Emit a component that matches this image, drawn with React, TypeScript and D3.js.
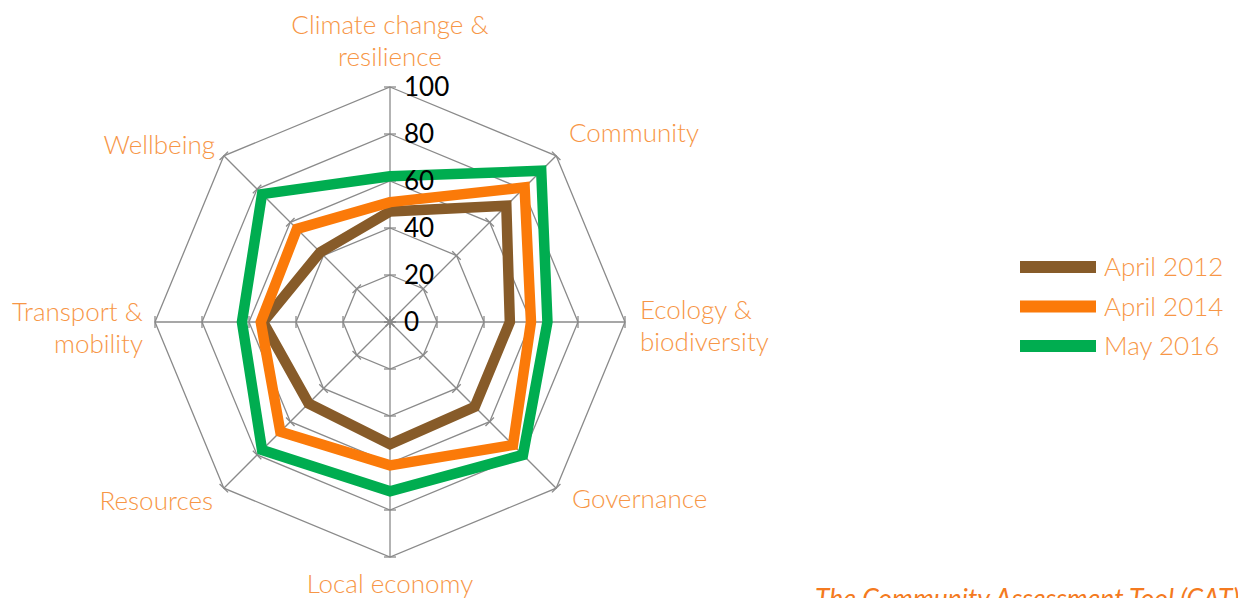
import * as d3 from 'd3';
import React, { useEffect, useRef } from 'react';

const categories = [
  ['Climate change &', 'resilience'],
  ['Community'],
  ['Ecology &', 'biodiversity'],
  ['Governance'],
  ['Local economy'],
  ['Resources'],
  ['Transport &', 'mobility'],
  ['Wellbeing'],
];

const april2012 = [47, 70, 51, 51, 52, 49, 54, 42];
const april2014 = [51, 81, 60, 74, 61, 66, 55, 56];
const may2016 = [62, 91, 67, 80, 72, 77, 63, 77];

const seriesNames = ['April 2012', 'April 2014', 'May 2016'];
const seriesColors = ['#875B29', '#FB7A09', '#00AD50'];
const tickValues = [0, 20, 40, 60, 80, 100];

function App() {
  const ref = useRef(null);

  useEffect(() => {
    const svg = d3.select(ref.current);
    svg.selectAll('*').remove();

    const cx = 390, cy = 322;
    const r = d3.scaleLinear().domain([0, 100]).range([0, 235]);
    const n = categories.length;
    const angle = (i) => (i * 2 * Math.PI) / n;
    const pt = (i, v) => [cx + r(v) * Math.sin(angle(i)), cy - r(v) * Math.cos(angle(i))];
    const labelColor = '#F79646';
    const gridColor = '#8A8A8A';

    const g = svg.append('g');

    // Gitter-Polygone
    tickValues.slice(1).forEach(t => {
      g.append('path')
        .attr('d', d3.line()(d3.range(n).map(i => pt(i, t))) + 'Z')
        .attr('fill', 'none')
        .attr('stroke', gridColor)
        .attr('stroke-width', 1.3);
    });

    // Speichen mit Tickmarks
    d3.range(n).forEach(i => {
      const [x1, y1] = pt(i, 100);
      g.append('line')
        .attr('x1', cx).attr('y1', cy).attr('x2', x1).attr('y2', y1)
        .attr('stroke', gridColor).attr('stroke-width', 1.3);
      const a = angle(i);
      const px = Math.cos(a), py = Math.sin(a);
      tickValues.forEach(t => {
        const [x, y] = pt(i, t);
        g.append('line')
          .attr('x1', x - px * 6).attr('y1', y - py * 6)
          .attr('x2', x + px * 6).attr('y2', y + py * 6)
          .attr('stroke', gridColor).attr('stroke-width', 1.3);
      });
    });

    // Serien
    [april2012, april2014, may2016].forEach((vals, s) => {
      g.append('path')
        .attr('d', d3.line()(vals.map((v, i) => pt(i, v))) + 'Z')
        .attr('fill', 'none')
        .attr('stroke', seriesColors[s])
        .attr('stroke-width', 10.5)
        .attr('stroke-linejoin', 'miter');
    });

    // Achsenbeschriftung
    tickValues.forEach(t => {
      g.append('text')
        .attr('x', cx + 14)
        .attr('y', cy - r(t))
        .attr('dy', '0.36em')
        .style('font-family', 'Lato, sans-serif')
        .style('font-size', '26px')
        .style('fill', '#000')
        .text(t);
    });

    // Kategorien
    const labelPos = [
      { x: 390, y: 25, anchor: 'middle' },
      { x: 569, y: 133, anchor: 'start' },
      { x: 640, y: 310, anchor: 'start' },
      { x: 572, y: 499, anchor: 'start' },
      { x: 390, y: 584, anchor: 'middle' },
      { x: 213, y: 501, anchor: 'end' },
      { x: 143, y: 312, anchor: 'end' },
      { x: 215, y: 145, anchor: 'end' },
    ];
    categories.forEach((lines, i) => {
      const t = g.append('text')
        .attr('text-anchor', labelPos[i].anchor)
        .style('font-family', 'Lato, sans-serif')
        .style('font-weight', 300)
        .style('font-size', '26px')
        .style('fill', labelColor);
      lines.forEach((l, j) => {
        t.append('tspan')
          .attr('x', labelPos[i].x)
          .attr('y', labelPos[i].y + j * 32)
          .attr('dy', '0.36em')
          .text(l);
      });
    });

    // Legende
    const legend = svg.append('g');
    seriesNames.forEach((name, s) => {
      const y = 267 + s * 39.5;
      legend.append('rect')
        .attr('x', 1020).attr('y', y - 6).attr('width', 76).attr('height', 12)
        .attr('fill', seriesColors[s]);
      legend.append('text')
        .attr('x', 1104).attr('y', y).attr('dy', '0.36em')
        .style('font-family', 'Lato, sans-serif')
        .style('font-weight', 300)
        .style('font-size', '26px')
        .style('fill', labelColor)
        .text(name);
    });

    svg.append('text')
      .attr('x', 815).attr('y', 608)
      .style('font-family', 'Lato, sans-serif')
      .style('font-style', 'italic')
      .style('font-size', '26.5px')
      .style('fill', '#F47A20')
      .text('The Community Assessment Tool (CAT)');
  }, []);

  return (
    <svg ref={ref} width={1238} height={598}
      style={{ position: 'absolute', left: 0, top: 0, background: '#fff' }} />
  );
}

export default App;
